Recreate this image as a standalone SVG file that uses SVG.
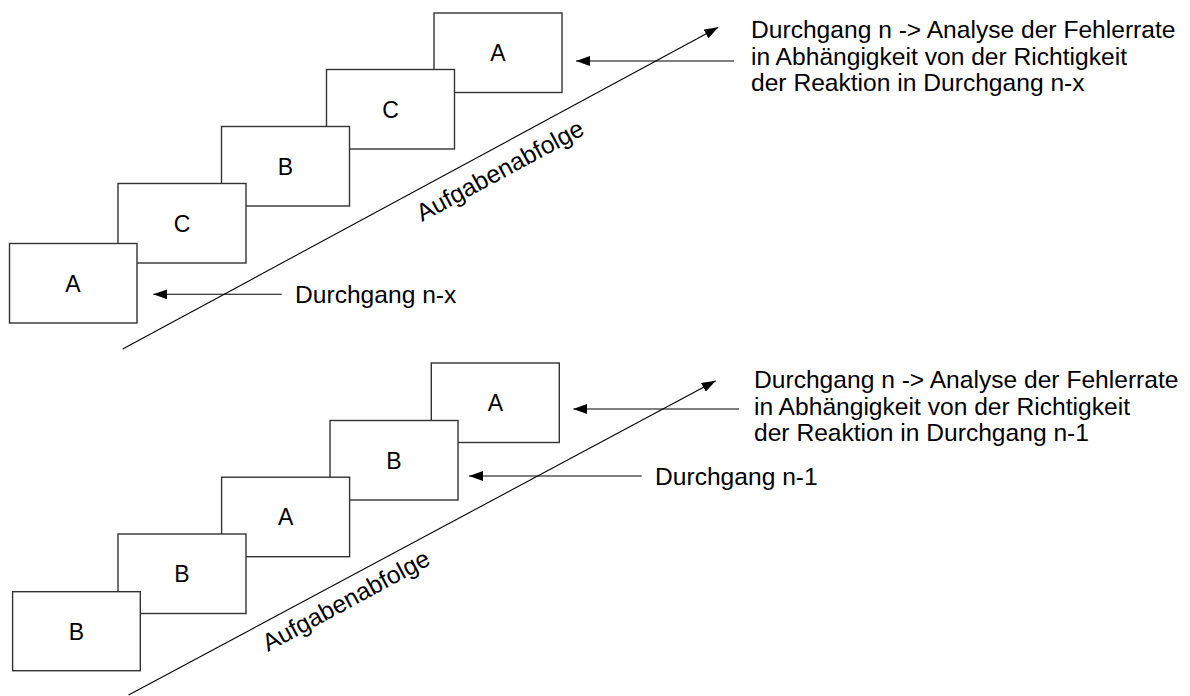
<svg xmlns="http://www.w3.org/2000/svg" width="1190" height="696" viewBox="0 0 1190 696">
  <style>
    .box rect { fill: #ffffff; stroke: #333333; stroke-width: 1.4; }
    .box text { font-family: "Liberation Sans", Arial, sans-serif; font-size: 23px; text-anchor: middle; fill: #000; }
    .lbl { font-family: "Liberation Sans", Arial, sans-serif; font-size: 24.6px; fill: #000; }
    .ln { stroke: #000; stroke-width: 1.1; fill: none; }
    .arr { stroke: #000; stroke-width: 1.1; fill: none; marker-end: url(#head); }
  </style>
  <defs>
    <marker id="head" viewBox="0 0 14 10" refX="14" refY="5" markerWidth="14" markerHeight="10" markerUnits="userSpaceOnUse" orient="auto">
      <path d="M0,0 L14,5 L0,10 z" fill="#000"/>
    </marker>
  </defs>

  <!-- upper sequence: A C B C A (drawn back to front) -->
  <g id="top-5" class="box"><rect x="434" y="13" width="128" height="79.5"/><text x="498" y="61">A</text></g>
  <g id="top-4" class="box"><rect x="326.5" y="69.5" width="128" height="79.5"/><text x="390.5" y="117.5">C</text></g>
  <g id="top-3" class="box"><rect x="221.5" y="126.5" width="128" height="79.5"/><text x="285.5" y="174.5">B</text></g>
  <g id="top-2" class="box"><rect x="118" y="183.5" width="128" height="79.5"/><text x="182" y="231.5">C</text></g>
  <g id="top-1" class="box"><rect x="9.5" y="243.5" width="127.5" height="79.5"/><text x="73" y="291.5">A</text></g>

  <!-- lower sequence: B B A B A (drawn back to front) -->
  <g id="bottom-5" class="box"><rect x="431.3" y="363" width="128" height="79.5"/><text x="495.3" y="411">A</text></g>
  <g id="bottom-4" class="box"><rect x="330" y="420.5" width="128" height="79.5"/><text x="394" y="468.5">B</text></g>
  <g id="bottom-3" class="box"><rect x="221.6" y="477.2" width="128" height="79.5"/><text x="285.6" y="525.2">A</text></g>
  <g id="bottom-2" class="box"><rect x="118" y="534" width="128" height="79.5"/><text x="182" y="582">B</text></g>
  <g id="bottom-1" class="box"><rect x="12.6" y="591.7" width="127.7" height="79"/><text x="76.5" y="639.5">B</text></g>

  <g id="connectors">
    <!-- sequence direction -->
    <line class="arr" x1="122.7" y1="349" x2="718.3" y2="27.3"/>
    <line class="arr" x1="128.6" y1="695" x2="715.7" y2="380.7"/>
    <!-- pointers to trials -->
    <line class="arr" x1="734" y1="61" x2="576" y2="61"/>
    <line class="arr" x1="281.7" y1="294.3" x2="153.3" y2="294.3"/>
    <line class="arr" x1="739" y1="409" x2="573.3" y2="409"/>
    <line class="arr" x1="641.7" y1="476" x2="469" y2="476"/>
  </g>

  <g id="labels">
    <text class="lbl" transform="translate(422,222) rotate(-28.3)">Aufgabenabfolge</text>
    <text class="lbl" transform="translate(268,652) rotate(-28.3)">Aufgabenabfolge</text>
    <text class="lbl" x="295" y="303">Durchgang n-x</text>
    <text class="lbl" x="655" y="485">Durchgang n-1</text>
    <text class="lbl" x="751" y="38">Durchgang n -&gt; Analyse der Fehlerrate</text>
    <text class="lbl" x="751" y="64.5">in Abhängigkeit von der Richtigkeit</text>
    <text class="lbl" x="751" y="91">der Reaktion in Durchgang n-x</text>
    <text class="lbl" x="754" y="388">Durchgang n -&gt; Analyse der Fehlerrate</text>
    <text class="lbl" x="754" y="414.5">in Abhängigkeit von der Richtigkeit</text>
    <text class="lbl" x="754" y="441">der Reaktion in Durchgang n-1</text>
  </g>
</svg>
